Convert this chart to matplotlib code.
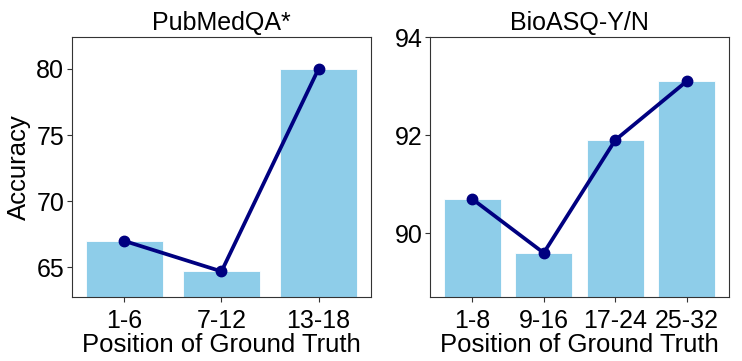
import matplotlib.pyplot as plt

plt.rcParams['font.family'] = ['Liberation Sans', 'DejaVu Sans']

pub_labels = ["1-6", "7-12", "13-18"]
pub_acc = [67.0, 64.7, 80.0]
bio_labels = ["1-8", "9-16", "17-24", "25-32"]
bio_acc = [90.7, 89.6, 91.9, 93.1]

fig = plt.figure(figsize=(7.42, 3.61), dpi=100)
ax1 = fig.add_axes([0.097, 0.177, 0.403, 0.7205])
ax2 = fig.add_axes([0.5795, 0.177, 0.403, 0.7205])

def draw(ax, labels, acc, title, ylim, yticks):
    x = range(len(labels))
    ax.bar(x, acc, width=0.8, color="#8ecde9", edgecolor="white", linewidth=0.6)
    ax.plot(x, acc, "-o", color="navy", linewidth=2.7, markersize=7.5)
    ax.set_xticks(list(x))
    ax.set_xticklabels(labels)
    ax.set_ylim(ylim)
    ax.set_yticks(yticks)
    ax.set_title(title, fontsize=18, pad=5)
    ax.set_xlabel("Position of Ground Truth", fontsize=18.5, labelpad=0)
    ax.tick_params(labelsize=18, color="#333333")
    ax.tick_params(axis="x", pad=5)
    ax.tick_params(axis="y", pad=2)
    for s in ax.spines.values():
        s.set_color("#333333")

draw(ax1, pub_labels, pub_acc, "PubMedQA*", (62.76, 82.4), [65, 70, 75, 80])
draw(ax2, bio_labels, bio_acc, "BioASQ-Y/N", (88.7, 94.0), [90, 92, 94])
ax1.set_ylabel("Accuracy", fontsize=18.5, labelpad=4)

fig.savefig("out.png", dpi=100)
